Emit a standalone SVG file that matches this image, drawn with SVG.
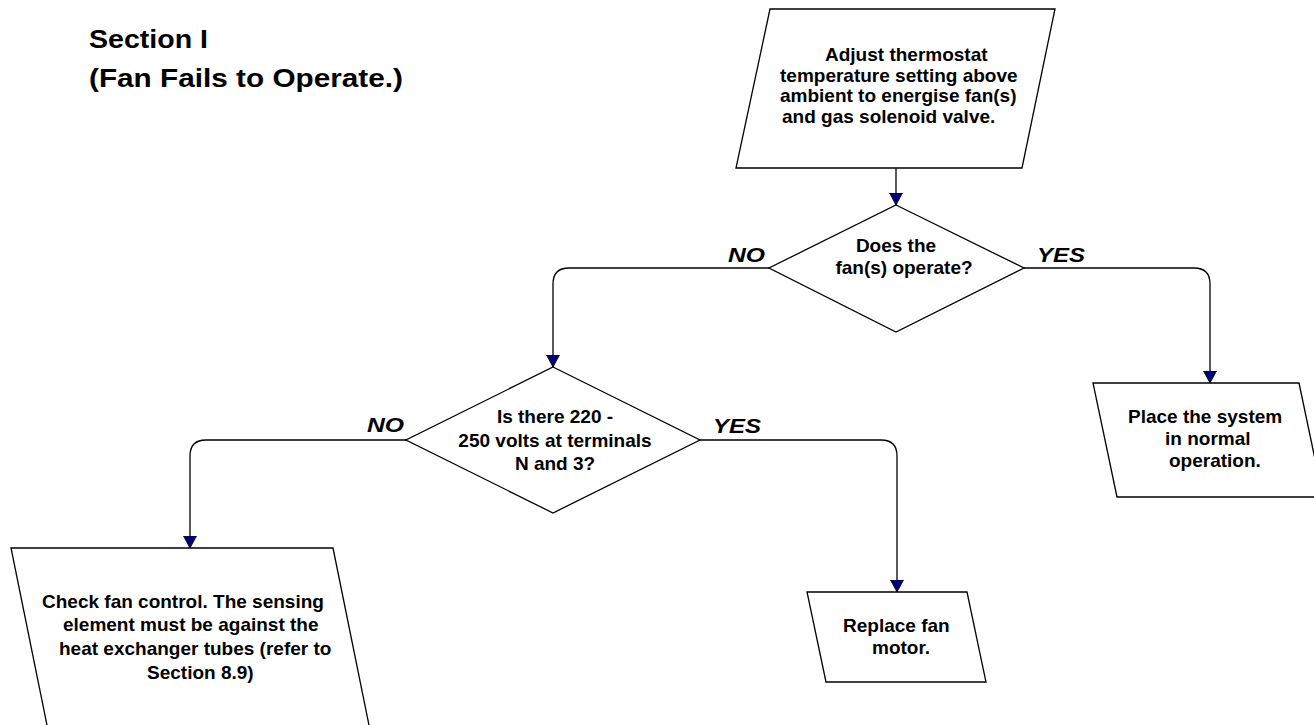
<svg xmlns="http://www.w3.org/2000/svg" width="1314" height="725" viewBox="0 0 1314 725">
<style>
.shape{fill:#fff;stroke:#000;stroke-width:1.3}
.conn{fill:none;stroke:#000;stroke-width:1.3}
.t{font-family:"Liberation Sans",Arial,sans-serif;font-weight:bold;font-size:19px;fill:#000}
.lbl{font-family:"Liberation Sans",Arial,sans-serif;font-weight:bold;font-style:italic;font-size:21px;fill:#000}
.title{font-family:"Liberation Sans",Arial,sans-serif;font-weight:bold;font-size:26px;fill:#000}
</style>
<defs>
<marker id="arr" markerWidth="14" markerHeight="14" refX="12" refY="6.5" orient="auto" markerUnits="userSpaceOnUse" viewBox="0 0 14 14">
<path d="M0,0 L12,6.5 L0,13 Z" fill="#000080" stroke="#000" stroke-width="0.8"/>
</marker>
</defs>
<rect width="1314" height="725" fill="#fff"/>
<g id="title">
<text class="title" x="89" y="48" textLength="119" lengthAdjust="spacingAndGlyphs">Section I</text>
<text class="title" x="89" y="87" textLength="314" lengthAdjust="spacingAndGlyphs">(Fan Fails to Operate.)</text>
</g>
<g id="connectors">
<path class="conn" d="M896,168 L896,205" marker-end="url(#arr)"/>
<path class="conn" d="M769,268 L569,268 Q553,268 553,284 L553,367" marker-end="url(#arr)"/>
<path class="conn" d="M1024,268 L1194,268 Q1210,268 1210,284 L1210,383" marker-end="url(#arr)"/>
<path class="conn" d="M406,440 L206,440 Q190,440 190,456 L190,548" marker-end="url(#arr)"/>
<path class="conn" d="M700,440 L881,440 Q897,440 897,456 L897,592" marker-end="url(#arr)"/>
</g>
<g id="labels">
<text class="lbl" x="728" y="262" textLength="37" lengthAdjust="spacingAndGlyphs">NO</text>
<text class="lbl" x="1037" y="262" textLength="48" lengthAdjust="spacingAndGlyphs">YES</text>
<text class="lbl" x="367" y="432" textLength="37" lengthAdjust="spacingAndGlyphs">NO</text>
<text class="lbl" x="713" y="433" textLength="48" lengthAdjust="spacingAndGlyphs">YES</text>
</g>
<g id="adjust">
<polygon class="shape" points="770,9 1055,9 1022,168 736,168"/>
<text class="t" x="825" y="61">Adjust thermostat</text>
<text class="t" x="780" y="82">temperature setting above</text>
<text class="t" x="780" y="102">ambient to energise fan(s)</text>
<text class="t" x="782" y="123">and gas solenoid valve.</text>
</g>
<g id="decision1">
<polygon class="shape" points="896,205 1024,268 896,332 769,268"/>
<text class="t" x="896" y="252" text-anchor="middle">Does the</text>
<text class="t" x="904" y="274" text-anchor="middle">fan(s) operate?</text>
</g>
<g id="decision2">
<polygon class="shape" points="553,367 700,440 553,513 406,440"/>
<text class="t" x="555" y="423" text-anchor="middle">Is there 220 -</text>
<text class="t" x="555" y="447" text-anchor="middle">250 volts at terminals</text>
<text class="t" x="555" y="470" text-anchor="middle">N and 3?</text>
</g>
<g id="place">
<polygon class="shape" points="1093,383 1299,383 1323,497 1117,497"/>
<text class="t" x="1128" y="423">Place the system</text>
<text class="t" x="1165" y="445">in normal</text>
<text class="t" x="1169" y="467">operation.</text>
</g>
<g id="checkfan">
<polygon class="shape" points="11,548 333,548 371,735 49,735"/>
<text class="t" x="42" y="608">Check fan control. The sensing</text>
<text class="t" x="63" y="631">element must be against the</text>
<text class="t" x="59" y="655">heat exchanger tubes (refer to</text>
<text class="t" x="147" y="679">Section 8.9)</text>
</g>
<g id="replace">
<polygon class="shape" points="807,592 967,592 986,682 826,682"/>
<text class="t" x="843" y="632">Replace fan</text>
<text class="t" x="872" y="654">motor.</text>
</g>
</svg>
